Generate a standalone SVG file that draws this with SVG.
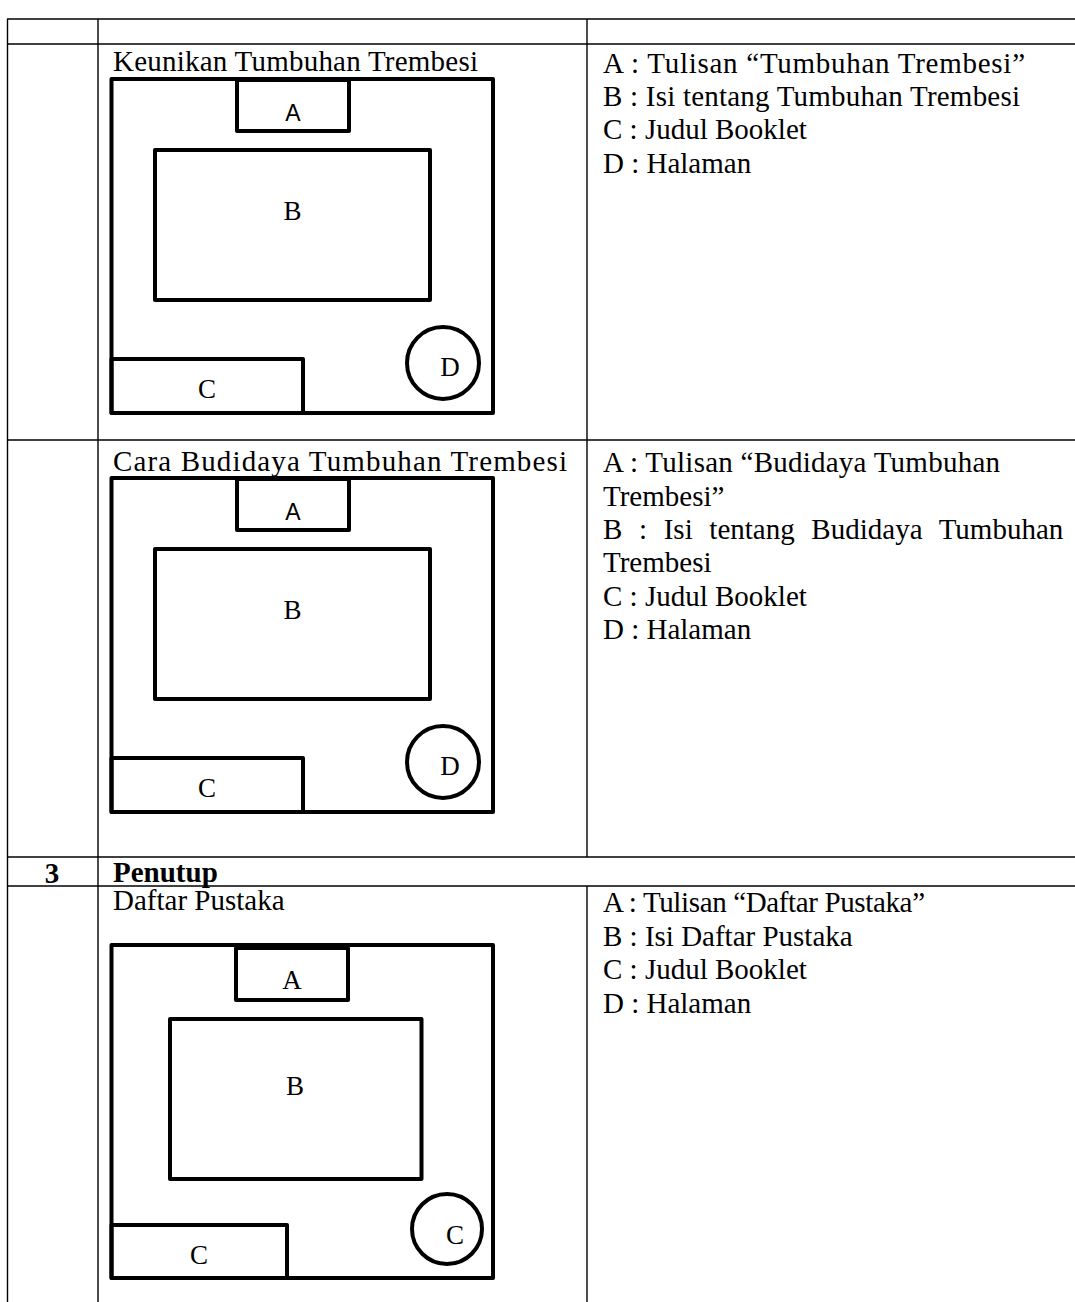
<svg xmlns="http://www.w3.org/2000/svg" width="1075" height="1302" viewBox="0 0 1075 1302">
<style>
  .grid { stroke: #000; stroke-width: 1.4; fill: none; }
  .box { stroke: #000; stroke-width: 4; fill: none; stroke-linejoin: round; }
  .t { font-family: "Liberation Serif", "Times New Roman", serif; font-size: 29px; fill: #000; }
  .b { font-weight: bold; }
  .lbl { font-family: "Liberation Serif", "Times New Roman", serif; font-size: 27px; fill: #000; text-anchor: middle; }
  .lbls { font-family: "Liberation Sans", Arial, sans-serif; font-size: 23px; fill: #000; text-anchor: middle; }
</style>
<rect width="1075" height="1302" fill="#fff"/>
<g id="table">
  <line class="grid" x1="7.5" y1="19" x2="7.5" y2="1302"/>
  <line class="grid" x1="98" y1="19" x2="98" y2="1302"/>
  <line class="grid" x1="587" y1="19" x2="587" y2="857"/>
  <line class="grid" x1="587" y1="886" x2="587" y2="1302"/>
  <line class="grid" x1="7" y1="19" x2="1075" y2="19"/>
  <line class="grid" x1="7" y1="44" x2="1075" y2="44"/>
  <line class="grid" x1="7" y1="440" x2="1075" y2="440"/>
  <line class="grid" x1="7" y1="857" x2="1075" y2="857"/>
  <line class="grid" x1="7" y1="886" x2="1075" y2="886"/>
</g>
<g id="connectors"></g>
<g id="row-keunikan">
  <text class="t" x="113" y="71" textLength="365" lengthAdjust="spacing">Keunikan Tumbuhan Trembesi</text>
  <g id="layout-keunikan">
    <rect class="box" x="111.5" y="79" width="381.5" height="334"/>
    <rect class="box" x="237" y="80" width="112" height="51"/>
    <text class="lbls" x="293" y="121">A</text>
    <rect class="box" x="155" y="150" width="275" height="150"/>
    <text class="lbl" x="292.5" y="220">B</text>
    <rect class="box" x="111.5" y="359" width="191.5" height="54"/>
    <text class="lbl" x="207" y="398">C</text>
    <circle class="box" cx="443" cy="363" r="36"/>
    <text class="lbl" x="450" y="376">D</text>
  </g>
  <g id="legend-keunikan">
    <text class="t" x="603" y="72.5" textLength="422" lengthAdjust="spacing">A : Tulisan “Tumbuhan Trembesi”</text>
    <text class="t" x="603" y="106" textLength="417" lengthAdjust="spacing">B : Isi tentang Tumbuhan Trembesi</text>
    <text class="t" x="603" y="139">C : Judul Booklet</text>
    <text class="t" x="603" y="172.5">D : Halaman</text>
  </g>
</g>
<g id="row-budidaya">
  <text class="t" x="113" y="471" textLength="454" lengthAdjust="spacing">Cara Budidaya Tumbuhan Trembesi</text>
  <g id="layout-budidaya">
    <rect class="box" x="111.5" y="478" width="381.5" height="334"/>
    <rect class="box" x="237" y="479" width="112" height="51"/>
    <text class="lbls" x="293" y="520">A</text>
    <rect class="box" x="155" y="549" width="275" height="150"/>
    <text class="lbl" x="292.5" y="619">B</text>
    <rect class="box" x="111.5" y="758" width="191.5" height="54"/>
    <text class="lbl" x="207" y="797">C</text>
    <circle class="box" cx="443" cy="762" r="36"/>
    <text class="lbl" x="450" y="775">D</text>
  </g>
  <g id="legend-budidaya">
    <text class="t" x="603" y="472" textLength="397" lengthAdjust="spacing">A : Tulisan “Budidaya Tumbuhan</text>
    <text class="t" x="603" y="505.5">Trembesi”</text>
    <text class="t" x="603" y="539" word-spacing="9.4">B : Isi tentang Budidaya Tumbuhan</text>
    <text class="t" x="603" y="572">Trembesi</text>
    <text class="t" x="603" y="605.5">C : Judul Booklet</text>
    <text class="t" x="603" y="639">D : Halaman</text>
  </g>
</g>
<g id="row-penutup">
  <text class="t b" x="52" y="883" text-anchor="middle">3</text>
  <text class="t b" x="113" y="882">Penutup</text>
</g>
<g id="row-daftar">
  <text class="t" x="113" y="910">Daftar Pustaka</text>
  <g id="layout-daftar">
    <rect class="box" x="111.5" y="945" width="381.5" height="333"/>
    <rect class="box" x="236" y="948" width="112" height="52"/>
    <text class="lbl" x="292" y="989">A</text>
    <rect class="box" x="170" y="1019" width="251.5" height="160"/>
    <text class="lbl" x="295" y="1095">B</text>
    <rect class="box" x="111.5" y="1225" width="175.5" height="53"/>
    <text class="lbl" x="199" y="1264">C</text>
    <circle class="box" cx="447" cy="1229" r="35"/>
    <text class="lbl" x="455" y="1244">C</text>
  </g>
  <g id="legend-daftar">
    <text class="t" x="603" y="912" textLength="322" lengthAdjust="spacing">A : Tulisan “Daftar Pustaka”</text>
    <text class="t" x="603" y="945.5">B : Isi Daftar Pustaka</text>
    <text class="t" x="603" y="979">C : Judul Booklet</text>
    <text class="t" x="603" y="1012.5">D : Halaman</text>
  </g>
</g>
</svg>
